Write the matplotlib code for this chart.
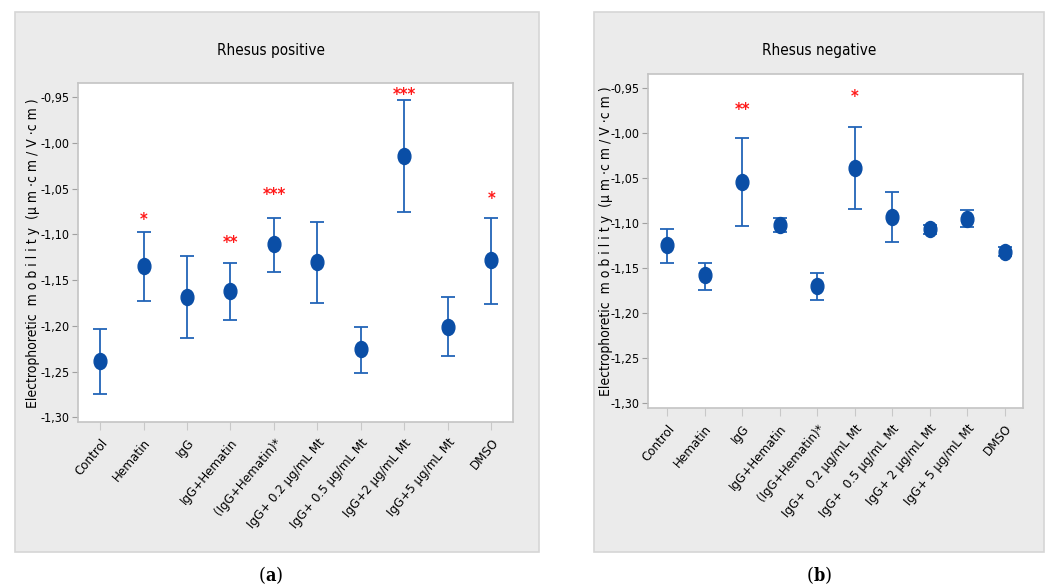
import matplotlib
matplotlib.use("Agg")
import matplotlib.pyplot as plt
import matplotlib.path as mpath
from matplotlib.patches import Rectangle
from matplotlib.ticker import FuncFormatter
import numpy as np

# ---------------- data ----------------
labels_pos = ["Control", "Hematin", "IgG", "IgG+Hematin", "(IgG+Hematin)*",
              "IgG+ 0.2 \u00b5g/mL Mt", "IgG+ 0.5 \u00b5g/mL Mt",
              "IgG+2 \u00b5g/mL Mt", "IgG+5 \u00b5g/mL Mt", "DMSO"]
labels_neg = ["Control", "Hematin", "IgG", "IgG+Hematin", "(IgG+Hematin)*",
              "IgG+  0.2 \u00b5g/mL Mt", "IgG+  0.5 \u00b5g/mL Mt",
              "IgG+ 2 \u00b5g/mL Mt", "IgG+ 5 \u00b5g/mL Mt", "DMSO"]

pos_mean = [-1.239, -1.135, -1.169, -1.162, -1.111, -1.130, -1.225, -1.015, -1.201, -1.128]
pos_low  = [-1.275, -1.173, -1.213, -1.194, -1.141, -1.175, -1.252, -1.076, -1.233, -1.176]
pos_high = [-1.203, -1.098, -1.124, -1.131, -1.082, -1.087, -1.201, -0.953, -1.169, -1.082]
pos_sig  = ["", "*", "", "**", "***", "", "", "***", "", "*"]
pos_sig_y = [None, -1.084, None, -1.109, -1.057, None, None, -0.948, None, -1.061]

neg_mean = [-1.125, -1.158, -1.055, -1.102, -1.170, -1.039, -1.094, -1.107, -1.096, -1.132]
neg_low  = [-1.144, -1.174, -1.103, -1.110, -1.185, -1.085, -1.121, -1.112, -1.105, -1.137]
neg_high = [-1.107, -1.144, -1.006, -1.095, -1.155, -0.994, -1.066, -1.102, -1.086, -1.127]
neg_sig  = ["", "", "**", "", "", "*", "", "", "", ""]
neg_sig_y = [None, None, -0.975, None, None, -0.961, None, None, None, None]

yticks = [-0.95, -1.00, -1.05, -1.10, -1.15, -1.20, -1.25, -1.30]

# ---------------- style ----------------
plt.rcParams['font.family'] = ['DejaVu Sans']
plt.rcParams['font.stretch'] = 'condensed'
W, H = 1048, 588
fig = plt.figure(figsize=(W / 100, H / 100), dpi=100)

def fx(px):
    return px / W

def fy(py):
    return 1 - py / H

# panel backgrounds
for (l, t, r, b) in [(15, 12, 538.5, 552), (593.5, 12, 1044, 552)]:
    fig.patches.append(Rectangle((fx(l), fy(b)), fx(r - l), (b - t) / H,
                                 transform=fig.transFigure, facecolor='#ebebeb',
                                 edgecolor='#d6d6d6', linewidth=1.2, zorder=-10))

ell = mpath.Path(mpath.Path.unit_circle().vertices * np.array([0.8, 1.0]),
                 mpath.Path.unit_circle().codes)

ylabel = "Electrophoretic  m o b i l i t y  (\u00b5 m \u00b7c m / V \u00b7c m )"
fmt = FuncFormatter(lambda v, p: ("%.2f" % v).replace('.', ','))


def panel(rect, labels, mean, low, high, sig, sig_y, title, title_xy, ylab_x, sub, sub_xy):
    ax = fig.add_axes(rect)
    ax.set_zorder(1)
    ax.set_facecolor('white')
    x = np.arange(1, len(labels) + 1)
    mean = np.array(mean)
    yerr = [mean - np.array(low), np.array(high) - mean]
    ax.errorbar(x, mean, yerr=yerr, fmt='none', ecolor='#2264b8', elinewidth=1.3,
                capsize=5, capthick=1.3, zorder=2)
    ax.plot(x, mean, linestyle='none', marker=ell, markersize=11.5,
            color='#0a4ea6', zorder=3)
    for xi, s, sy in zip(x, sig, sig_y):
        if s:
            ax.text(xi, sy, s, color='#ff1a1a', fontsize=12, ha='center',
                    va='center', fontweight='bold')
    ax.set_xlim(0.5, 10.5)
    ax.set_ylim(-1.3055, -0.935)
    ax.set_yticks(yticks)
    ax.yaxis.set_major_formatter(fmt)
    ax.set_xticks(x)
    ax.set_xticklabels(labels, rotation=50, ha='right', va='top',
                       rotation_mode='anchor', fontsize=9.5)
    ax.tick_params(axis='y', labelsize=9, length=4, color='#a0a0a0', pad=2)
    ax.tick_params(axis='x', length=6, color='#c8c8c8', pad=4)
    for sp in ax.spines.values():
        sp.set_color('#c4c4c4')
        sp.set_linewidth(1.2)
    fig.text(fx(title_xy[0]), fy(title_xy[1]), title, ha='center', va='center',
             fontsize=11)
    fig.text(fx(ylab_x), (rect[1] + rect[3] / 2), ylabel, rotation=90,
             ha='center', va='center', fontsize=10)
    fig.text(fx(sub_xy[0]), fy(sub_xy[1]), sub, ha='center', va='center',
             fontsize=13, family='DejaVu Serif', stretch='normal')
    return ax


plt.rcParams['mathtext.fontset'] = 'dejavuserif'
panel([fx(78.3), fy(422.3), fx(513 - 78.3), (422.3 - 83.3) / H], labels_pos,
      pos_mean, pos_low, pos_high, pos_sig, pos_sig_y, "Rhesus positive",
      (271, 50), 33, r"($\mathbf{a}$)", (271, 575))
panel([fx(648.3), fy(408.3), fx(1023.3 - 648.3), (408.3 - 74) / H], labels_neg,
      neg_mean, neg_low, neg_high, neg_sig, neg_sig_y, "Rhesus negative",
      (819, 50), 606, r"($\mathbf{b}$)", (819, 575))

fig.savefig("out.png", dpi=100, facecolor='white')
